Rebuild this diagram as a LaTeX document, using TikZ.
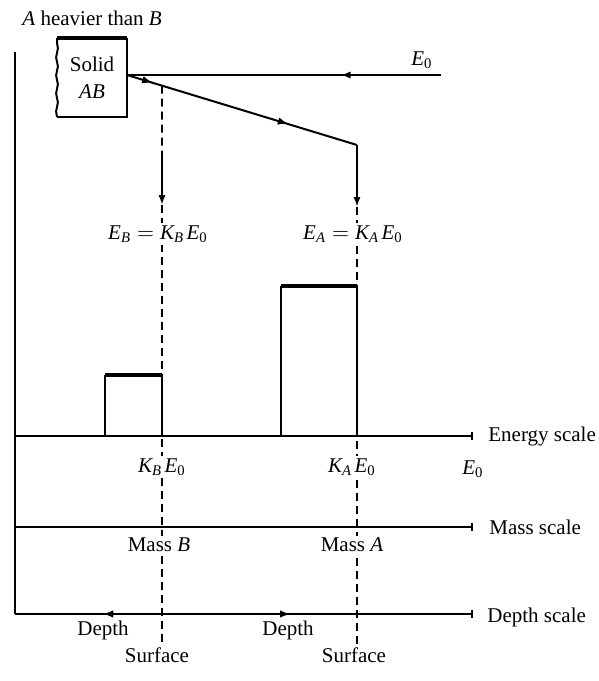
\documentclass[tikz,border=0pt]{standalone}
\usepackage{amsmath}
\usepackage{fontspec}
\setmainfont{Liberation Serif}
\usetikzlibrary{arrows.meta,decorations.markings,decorations.pathmorphing,calc}
\newcommand{\mi}[1]{\textit{#1}}
\newcommand{\zr}{\text{0}}
\newcommand{\KE}[1]{\mi{K}_{\mi{#1}}\mkern2mu\mi{E}_{\zr}}
\begin{document}
\begin{tikzpicture}[x=0.5pt,y=-0.5pt,
  font=\fontsize{10.5}{13.5}\selectfont,
  axis/.style={line width=1pt},
  scaleline/.style={line width=1.2pt},
  thickedge/.style={line width=1.6pt},
  dashedline/.style={line width=0.8pt, dash pattern=on 4pt off 2.5pt},
  lbl/.style={inner sep=1pt, fill=white},
  plain/.style={inner sep=1pt},
  midfwd/.style={postaction={decorate}, decoration={markings,
      mark=at position #1 with {\arrow{Latex[length=5pt,width=3.6pt]}}}},
  midback/.style={postaction={decorate}, decoration={markings,
      mark=at position #1 with {\arrowreversed{Latex[length=5pt,width=3.6pt]}}}},
  tip/.style={-{Latex[length=5pt,width=3.6pt]}}]
\useasboundingbox (0,0) rectangle (599,681);

% coordinates
\coordinate (axtop) at (15,52);
\coordinate (origin) at (15,614);
\coordinate (depthend) at (472,614);
\coordinate (enstart) at (15,436);
\coordinate (enend) at (472,436);
\coordinate (msstart) at (15,527);
\coordinate (msend) at (472,527);
\coordinate (boxout) at (127,75);
\coordinate (beamend) at (441,75);
\coordinate (slantend) at (357,145);
\coordinate (bstart) at ($(boxout)!0.152!(slantend)$);
\coordinate (bsolid) at (162,157);
\coordinate (btip) at (162,205);
\coordinate (bbot) at (162,646);
\coordinate (atip) at (357,207);
\coordinate (abot) at (357,646);

% title
\node[plain, anchor=west] (title) at (20,18) {\mi{A} heavier than \mi{B}};

% solid AB box
\draw[thickedge] (57,38) -- (127,38);
\draw[axis] (127,38) -- (127,117) -- (57,117);
\draw[axis, decorate, decoration={snake, amplitude=0.45pt, segment length=9pt}] (57,117) -- (57,38);
\node[plain, align=center] (solid) at (92,78) {Solid\\\mi{AB}};

% axes
\draw[axis] (axtop) -- (origin);
\draw[scaleline] (enstart) -- (enend);
\draw[axis] (472,432) -- (472,440);
\draw[scaleline] (msstart) -- (msend);
\draw[axis] (472,523) -- (472,531);
\draw[scaleline, midback=0.193, midfwd=0.602] (origin) -- (depthend);
\draw[axis] (472,610) -- (472,618);

% beams
\draw[scaleline, midback=0.68] (boxout) -- (beamend);
\draw[axis, midfwd=0.11, midfwd=0.70] (boxout) -- (slantend);
\draw[axis, tip] (slantend) -- (atip);
\draw[dashedline] (bstart) -- (bsolid);
\draw[axis, tip] (bsolid) -- (btip);
\draw[dashedline] (btip) -- (bbot);
\draw[dashedline] (atip) -- (abot);

% bars
\draw[axis] (105,436) -- (105,375);
\draw[thickedge] (105,375) -- (162,375);
\draw[axis] (162,375) -- (162,436);
\draw[axis] (281,436) -- (281,286);
\draw[thickedge] (281,286) -- (357,286);
\draw[axis] (357,286) -- (357,436);

% labels
\node[plain] (e0top) at (422,60) {$\mi{E}_{\zr}$};
\node[lbl] (eb) at (158,234) {$\mi{E}_{\mi{B}} = \KE{B}$};
\node[lbl] (ea) at (353,234) {$\mi{E}_{\mi{A}} = \KE{A}$};
\node[lbl] (kbe) at (162,467) {$\KE{B}$};
\node[lbl] (kae) at (352,467) {$\KE{A}$};
\node[plain] (e0ax) at (473,469) {$\mi{E}_{\zr}$};
\node[lbl] (massb) at (159,545) {Mass \mi{B}};
\node[lbl] (massa) at (352,545) {Mass \mi{A}};
\node[plain] (depthl) at (103,630) {Depth};
\node[plain] (depthr) at (288,630) {Depth};
\node[lbl] (surfb) at (157,655) {Surface};
\node[lbl] (surfa) at (354,655) {Surface};
\node[plain, anchor=west] (ensc) at (486,436) {Energy scale};
\node[plain, anchor=west] (mssc) at (487,527) {Mass scale};
\node[plain, anchor=west] (dpsc) at (485,617) {Depth scale};
\end{tikzpicture}
\end{document}
